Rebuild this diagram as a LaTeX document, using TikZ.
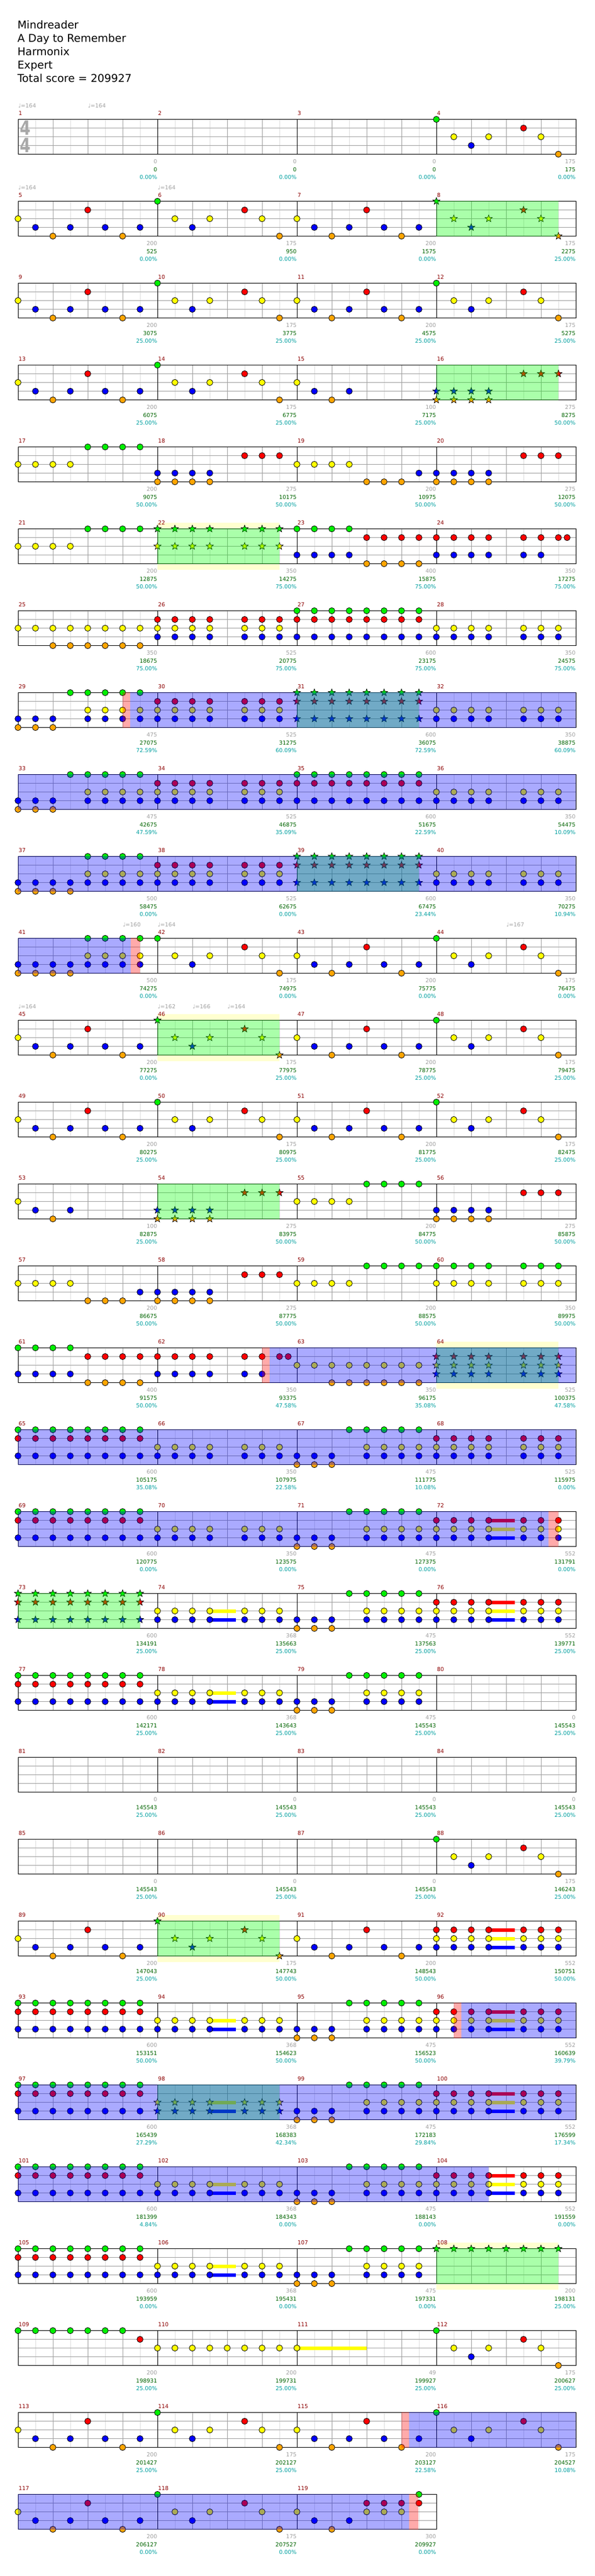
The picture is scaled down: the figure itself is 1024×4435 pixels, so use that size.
\documentclass[tikz,border=0pt]{standalone}
\usepackage{fontspec}
\setmainfont{DejaVu Sans}
\definecolor{cg}{RGB}{0,240,0}
\definecolor{cr}{RGB}{255,0,0}
\definecolor{cy}{RGB}{255,255,0}
\definecolor{cb}{RGB}{0,0,255}
\definecolor{co}{RGB}{255,165,0}
\definecolor{gridc}{RGB}{160,160,160}
\definecolor{lgrid}{RGB}{222,222,222}
\definecolor{mnumc}{RGB}{140,0,0}
\definecolor{scg}{RGB}{160,160,160}
\definecolor{scgr}{RGB}{0,100,0}
\definecolor{scc}{RGB}{0,160,160}
\definecolor{pyel}{RGB}{255,255,208}
\definecolor{ovg}{RGB}{0,255,0}
\definecolor{ovb}{RGB}{0,0,255}
\definecolor{ovr}{RGB}{255,0,0}
\definecolor{tsg}{RGB}{168,168,168}
\def\lyg{0}\def\lyr{15}\def\lyy{30}\def\lyb{45}\def\lyo{60}
\newcommand\rowtop[1]{\pgfmathsetmacro\rT{205.5+141*(#1-1)}}
\newcommand\ntn[3]{\rowtop{#1}\foreach \cc in {#2}{\edef\yy{\csname ly\cc\endcsname}\foreach \ii in {#3}{\filldraw[notec=\cc] ({31+30*(\ii)},{\rT+\yy}) circle[radius=5.3];}}}
\newcommand\stn[3]{\rowtop{#1}\foreach \cc in {#2}{\edef\yy{\csname ly\cc\endcsname}\foreach \ii in {#3}{\filldraw[notec=\cc,line width=0.7pt] ({31+30*(\ii)},{\rT+\yy}) +(-90:6.4) -- +(-54:2.7) -- +(-18:6.4) -- +(18:2.7) -- +(54:6.4) -- +(90:2.7) -- +(126:6.4) -- +(162:2.7) -- +(198:6.4) -- +(234:2.7) -- cycle;}}}
\newcommand\sus[4]{\rowtop{#1}\foreach \cc in {#2}{\edef\yy{\csname ly\cc\endcsname}\fill[c\cc] ({31+30*(#3)},{\rT+\yy-3}) rectangle ({31+30*(#4)},{\rT+\yy+3});}}
\newcommand\ovl[4]{\rowtop{#1}\fill[#2,fill opacity=0.333] ({31+30*(#3)},{\rT-0.5}) rectangle ({31+30*(#4)},{\rT+60.5});}
\newcommand\pyl[3]{\rowtop{#1}\fill[pyel] ({31+30*(#2)},{\rT-10.5}) rectangle ({31+30*(#3)},{\rT});\fill[pyel] ({31+30*(#2)},{\rT+60}) rectangle ({31+30*(#3)},{\rT+70.5});}
\newcommand\stf[2]{\rowtop{#1}\pgfmathsetmacro\rW{240*#2}\pgfmathtruncatemacro\nh{8*#2-1}\pgfmathtruncatemacro\nbt{4*#2-1}\pgfmathtruncatemacro\nms{#2-1}%
\foreach \j in {1,3,...,\nh}{\draw[lgrid] ({31+30*\j},\rT) -- ({31+30*\j},{\rT+60});}%
\foreach \yv in {15,30,45}{\draw[gridc] (31,{\rT+\yv}) -- ({31+\rW},{\rT+\yv});}%
\foreach \j in {1,...,\nbt}{\draw[gridc] ({31+60*\j},\rT) -- ({31+60*\j},{\rT+60});}%
\foreach \j in {1,...,\nms}{\draw[black] ({31+240*\j},\rT) -- ({31+240*\j},{\rT+60});}%
\draw[black] (31,\rT) rectangle ({31+\rW},{\rT+60});}
\newcommand\pA[2]{\ntn{#1}{y}{#2}\ntn{#1}{b}{#2+1,#2+3,#2+5,#2+7}\ntn{#1}{o}{#2+2,#2+6}\ntn{#1}{r}{#2+4}}
\newcommand\pB[3]{#3{#1}{g}{#2}#3{#1}{y}{#2+1,#2+3,#2+6}#3{#1}{b}{#2+2}#3{#1}{r}{#2+5}#3{#1}{o}{#2+7}}
\newcommand\pC[2]{\ntn{#1}{b,o}{#2,#2+1,#2+2}\ntn{#1}{g}{#2+3}\ntn{#1}{g,y,b}{#2+4,#2+5,#2+6,#2+7}}
\newcommand\msr[4]{\pgfmathtruncatemacro\mrow{div(#1-1,4)+1}\pgfmathtruncatemacro\mpos{mod(#1-1,4)}\rowtop{\mrow}\pgfmathsetmacro\xs{31+240*\mpos}%
\node[mn] (mn#1) at ({\xs+0.5},{\rT-7.4}) {#1};%
\node[sa] (sa#1) at ({\xs+240},{\rT+76.3}) {#2};%
\node[sb] (sb#1) at ({\xs+240},{\rT+89.6}) {#3};%
\node[sc] (sc#1) at ({\xs+240},{\rT+102.6}) {#4\%};}
\newcommand\tmpo[3]{\rowtop{#1}\node[tmp] (tp-#1-#2) at (#2,{\rT-20.4}) {♩=#3};}
\begin{document}
\begin{tikzpicture}[x=1pt,y=-1pt,line width=1pt,
 txt/.style={inner sep=0pt,font=\fontsize{9.5}{11}\selectfont},
 mn/.style={txt,text=mnumc,anchor=base west},
 sa/.style={txt,text=scg,anchor=base east},
 sb/.style={txt,text=scgr,anchor=base east},
 sc/.style={txt,text=scc,anchor=base east},
 tmp/.style={txt,text=scg,anchor=base west},
 ttl/.style={inner sep=0pt,anchor=base west,font=\fontsize{18.5}{23}\selectfont},
 notec/.style={fill=c#1,draw=black,line width=0.8pt}]
\useasboundingbox (0,0) rectangle (1024,4435);
\fill[white] (0,0) rectangle (1024,4435);
\node[ttl] (t1) at (29.5,49.3) {Mindreader};
\node[ttl] (t2) at (29.5,72.3) {A Day to Remember};
\node[ttl] (t3) at (29.5,95.3) {Harmonix};
\node[ttl] (t4) at (29.5,118.3) {Expert};
\node[ttl] (t5) at (29.5,141.3) {Total score = 209927};
% row 1
\stf{1}{4}
\node[inner sep=0pt,text=tsg,font=\fontsize{34}{34}\selectfont\bfseries] (ts1) at (44.2,220.3) {\scalebox{0.78}[1]{4}};
\node[inner sep=0pt,text=tsg,font=\fontsize{34}{34}\selectfont\bfseries] (ts2) at (44.2,250.5) {\scalebox{0.78}[1]{4}};
\pB{1}{24}{\ntn}
\tmpo{1}{31}{164}\tmpo{1}{151}{164}
% row 2
\stf{2}{4}
\pA{2}{0}\pB{2}{8}{\ntn}\pA{2}{16}\pB{2}{24}{\stn}
\ovl{2}{ovg}{24}{31}
\tmpo{2}{31}{164}\tmpo{2}{271}{164}
% row 3
\stf{3}{4}
\pA{3}{0}\pB{3}{8}{\ntn}\pA{3}{16}\pB{3}{24}{\ntn}
% row 4
\stf{4}{4}
\pA{4}{0}\pB{4}{8}{\ntn}\ntn{4}{y}{16}\ntn{4}{b}{17,19}\ntn{4}{o}{18}
\stn{4}{b,o}{24,25,26,27}\stn{4}{r}{29,30,31}
\ovl{4}{ovg}{24}{31}
% row 5
\stf{5}{4}
\ntn{5}{y}{0,1,2,3}\ntn{5}{g}{4,5,6,7}\ntn{5}{b,o}{8,9,10,11}\ntn{5}{r}{13,14,15}
\ntn{5}{y}{16,17,18,19}\ntn{5}{o}{20,21,22}\ntn{5}{b}{23}\ntn{5}{b,o}{24,25,26,27}\ntn{5}{r}{29,30,31}
% row 6
\pyl{6}{8}{15}
\stf{6}{4}
\ntn{6}{y}{0,1,2,3}\ntn{6}{g}{4,5,6,7}\stn{6}{g,y}{8,9,10,11,13,14,15}
\ntn{6}{g,b}{16,17,18,19}\ntn{6}{r,o}{20,21,22,23}\ntn{6}{r,b}{24,25,26,27,29,30}\ntn{6}{r}{31,31.5}
\ovl{6}{ovg}{8}{15}
% row 7
\stf{7}{4}
\ntn{7}{y}{0,1,2,3,4,5,6,7}\ntn{7}{o}{2,3,4,5,6,7}\ntn{7}{r,y,b}{8,9,10,11,13,14,15}
\ntn{7}{g,r,b}{16,17,18,19,20,21,22,23}\ntn{7}{y,b}{24,25,26,27,29,30,31}
% row 8
\stf{8}{4}
\ntn{8}{b,o}{0,1,2}\ntn{8}{g}{3,4,5,6,7}\ntn{8}{y,b}{4,5,6,7}\ntn{8}{r,y,b}{8,9,10,11,13,14,15}
\stn{8}{g,r,b}{16,17,18,19,20,21,22,23}\ntn{8}{y,b}{24,25,26,27,29,30,31}
\ovl{8}{ovg}{16}{23}\ovl{8}{ovr}{6}{6.43}\ovl{8}{ovb}{6.43}{32}
% row 9
\stf{9}{4}
\ntn{9}{b,o}{0,1,2}\ntn{9}{g}{3,4,5,6,7}\ntn{9}{y,b}{4,5,6,7}\ntn{9}{r,y,b}{8,9,10,11,13,14,15}
\ntn{9}{g,r,b}{16,17,18,19,20,21,22,23}\ntn{9}{y,b}{24,25,26,27,29,30,31}
\ovl{9}{ovb}{0}{32}
% row 10
\stf{10}{4}
\ntn{10}{b,o}{0,1,2,3}\ntn{10}{g,y,b}{4,5,6,7}\ntn{10}{r,y,b}{8,9,10,11,13,14,15}
\stn{10}{g,r,b}{16,17,18,19,20,21,22,23}\ntn{10}{y,b}{24,25,26,27,29,30,31}
\ovl{10}{ovg}{16}{23}\ovl{10}{ovb}{0}{32}
% row 11
\stf{11}{4}
\ntn{11}{b,o}{0,1,2,3}\ntn{11}{g,y,b}{4,5,6,7}\pB{11}{8}{\ntn}\pA{11}{16}\pB{11}{24}{\ntn}
\ovl{11}{ovb}{0}{6.48}\ovl{11}{ovr}{6.48}{7}
\tmpo{11}{211}{160}\tmpo{11}{271}{164}\tmpo{11}{871}{167}
% row 12
\pyl{12}{8}{15}
\stf{12}{4}
\pA{12}{0}\pB{12}{8}{\stn}\pA{12}{16}\pB{12}{24}{\ntn}
\ovl{12}{ovg}{8}{15}
\tmpo{12}{31}{164}\tmpo{12}{271}{162}\tmpo{12}{331}{166}\tmpo{12}{391}{164}
% row 13
\stf{13}{4}
\pA{13}{0}\pB{13}{8}{\ntn}\pA{13}{16}\pB{13}{24}{\ntn}
% row 14
\stf{14}{4}
\ntn{14}{y}{0}\ntn{14}{b}{1,3}\ntn{14}{o}{2}\stn{14}{b,o}{8,9,10,11}\stn{14}{r}{13,14,15}
\ntn{14}{y}{16,17,18,19}\ntn{14}{g}{20,21,22,23}\ntn{14}{b,o}{24,25,26,27}\ntn{14}{r}{29,30,31}
\ovl{14}{ovg}{8}{15}
% row 15
\stf{15}{4}
\ntn{15}{y}{0,1,2,3}\ntn{15}{o}{4,5,6}\ntn{15}{b}{7}\ntn{15}{b,o}{8,9,10,11}\ntn{15}{r}{13,14,15}
\ntn{15}{y}{16,17,18,19}\ntn{15}{g}{20,21,22,23}\ntn{15}{g,y}{24,25,26,27,29,30,31}
% row 16
\pyl{16}{24}{31}
\stf{16}{4}
\ntn{16}{g,b}{0,1,2,3}\ntn{16}{r,o}{4,5,6,7}\ntn{16}{r,b}{8,9,10,11,13,14}\ntn{16}{r}{15,15.5}
\ntn{16}{y}{16,17,18,19,20,21,22,23}\ntn{16}{o}{18,19,20,21,22,23}\stn{16}{r,y,b}{24,25,26,27,29,30,31}
\ovl{16}{ovg}{24}{31}\ovl{16}{ovr}{14}{14.43}\ovl{16}{ovb}{14.43}{32}
% row 17
\stf{17}{4}
\ntn{17}{g,r,b}{0,1,2,3,4,5,6,7}\ntn{17}{y,b}{8,9,10,11,13,14,15}\pC{17}{16}\ntn{17}{r,y,b}{24,25,26,27,29,30,31}
\ovl{17}{ovb}{0}{32}
% row 18
\stf{18}{4}
\ntn{18}{g,r,b}{0,1,2,3,4,5,6,7}\ntn{18}{y,b}{8,9,10,11,13,14,15}\pC{18}{16}
\sus{18}{r,y,b}{27}{28.5}\ntn{18}{r,y,b}{24,25,26,27,29,30,31}
\ovl{18}{ovb}{0}{30.43}\ovl{18}{ovr}{30.43}{31}
% row 19
\stf{19}{4}
\stn{19}{g,r,b}{0,1,2,3,4,5,6,7}\sus{19}{y,b}{11}{12.5}\ntn{19}{y,b}{8,9,10,11,13,14,15}\pC{19}{16}
\sus{19}{r,y,b}{27}{28.5}\ntn{19}{r,y,b}{24,25,26,27,29,30,31}
\ovl{19}{ovg}{0}{7}
% row 20
\stf{20}{4}
\ntn{20}{g,r,b}{0,1,2,3,4,5,6,7}\sus{20}{y,b}{11}{12.5}\ntn{20}{y,b}{8,9,10,11,13,14,15}\pC{20}{16}
% row 21
\stf{21}{4}
% row 22
\stf{22}{4}
\pB{22}{24}{\ntn}
% row 23
\pyl{23}{8}{15}
\stf{23}{4}
\pA{23}{0}\pB{23}{8}{\stn}\pA{23}{16}\sus{23}{r,y,b}{27}{28.5}\ntn{23}{r,y,b}{24,25,26,27,29,30,31}
\ovl{23}{ovg}{8}{15}
% row 24
\stf{24}{4}
\ntn{24}{g,r,b}{0,1,2,3,4,5,6,7}\sus{24}{y,b}{11}{12.5}\ntn{24}{y,b}{8,9,10,11,13,14,15}\pC{24}{16}
\sus{24}{r,y,b}{27}{28.5}\ntn{24}{r,y,b}{24,25,26,27,29,30,31}
\ovl{24}{ovr}{25}{25.43}\ovl{24}{ovb}{25.43}{32}
% row 25
\stf{25}{4}
\ntn{25}{g,r,b}{0,1,2,3,4,5,6,7}\sus{25}{y,b}{11}{12.5}\stn{25}{y,b}{8,9,10,11,13,14,15}\pC{25}{16}
\sus{25}{r,y,b}{27}{28.5}\ntn{25}{r,y,b}{24,25,26,27,29,30,31}
\ovl{25}{ovg}{8}{15}\ovl{25}{ovb}{0}{32}
% row 26
\stf{26}{4}
\ntn{26}{g,r,b}{0,1,2,3,4,5,6,7}\sus{26}{y,b}{11}{12.5}\ntn{26}{y,b}{8,9,10,11,13,14,15}\pC{26}{16}
\sus{26}{r,y,b}{27}{28.5}\ntn{26}{r,y,b}{24,25,26,27,29,30,31}
\ovl{26}{ovb}{0}{27}
% row 27
\pyl{27}{24}{31}
\stf{27}{4}
\ntn{27}{g,r,b}{0,1,2,3,4,5,6,7}\sus{27}{y,b}{11}{12.5}\ntn{27}{y,b}{8,9,10,11,13,14,15}\pC{27}{16}
\stn{27}{g}{24,25,26,27,28,29,30,31}
\ovl{27}{ovg}{24}{31}
% row 28
\stf{28}{4}
\ntn{28}{g}{0,1,2,3,4,5,6}\ntn{28}{r}{7}\ntn{28}{y}{8,9,10,11,12,13,14,15}\sus{28}{y}{16}{20}\ntn{28}{y}{16}\pB{28}{24}{\ntn}
% row 29
\stf{29}{4}
\pA{29}{0}\pB{29}{8}{\ntn}\pA{29}{16}\pB{29}{24}{\ntn}
\ovl{29}{ovr}{22}{22.43}\ovl{29}{ovb}{22.43}{32}
% row 30
\stf{30}{3}
\pA{30}{0}\pB{30}{8}{\ntn}\ntn{30}{y}{16}\ntn{30}{b}{17,19}\ntn{30}{o}{18}\ntn{30}{r,y}{20,21,22}\ntn{30}{g,r}{23}
\ovl{30}{ovb}{0}{22.43}\ovl{30}{ovr}{22.43}{22.95}
% measure texts
\msr{1}{0}{0}{0.00}\msr{2}{0}{0}{0.00}\msr{3}{0}{0}{0.00}\msr{4}{175}{175}{0.00}
\msr{5}{200}{525}{0.00}\msr{6}{175}{950}{0.00}\msr{7}{200}{1575}{0.00}\msr{8}{175}{2275}{25.00}
\msr{9}{200}{3075}{25.00}\msr{10}{175}{3775}{25.00}\msr{11}{200}{4575}{25.00}\msr{12}{175}{5275}{25.00}
\msr{13}{200}{6075}{25.00}\msr{14}{175}{6775}{25.00}\msr{15}{100}{7175}{25.00}\msr{16}{275}{8275}{50.00}
\msr{17}{200}{9075}{50.00}\msr{18}{275}{10175}{50.00}\msr{19}{200}{10975}{50.00}\msr{20}{275}{12075}{50.00}
\msr{21}{200}{12875}{50.00}\msr{22}{350}{14275}{75.00}\msr{23}{400}{15875}{75.00}\msr{24}{350}{17275}{75.00}
\msr{25}{350}{18675}{75.00}\msr{26}{525}{20775}{75.00}\msr{27}{600}{23175}{75.00}\msr{28}{350}{24575}{75.00}
\msr{29}{475}{27075}{72.59}\msr{30}{525}{31275}{60.09}\msr{31}{600}{36075}{72.59}\msr{32}{350}{38875}{60.09}
\msr{33}{475}{42675}{47.59}\msr{34}{525}{46875}{35.09}\msr{35}{600}{51675}{22.59}\msr{36}{350}{54475}{10.09}
\msr{37}{500}{58475}{0.00}\msr{38}{525}{62675}{0.00}\msr{39}{600}{67475}{23.44}\msr{40}{350}{70275}{10.94}
\msr{41}{500}{74275}{0.00}\msr{42}{175}{74975}{0.00}\msr{43}{200}{75775}{0.00}\msr{44}{175}{76475}{0.00}
\msr{45}{200}{77275}{0.00}\msr{46}{175}{77975}{25.00}\msr{47}{200}{78775}{25.00}\msr{48}{175}{79475}{25.00}
\msr{49}{200}{80275}{25.00}\msr{50}{175}{80975}{25.00}\msr{51}{200}{81775}{25.00}\msr{52}{175}{82475}{25.00}
\msr{53}{100}{82875}{25.00}\msr{54}{275}{83975}{50.00}\msr{55}{200}{84775}{50.00}\msr{56}{275}{85875}{50.00}
\msr{57}{200}{86675}{50.00}\msr{58}{275}{87775}{50.00}\msr{59}{200}{88575}{50.00}\msr{60}{350}{89975}{50.00}
\msr{61}{400}{91575}{50.00}\msr{62}{350}{93375}{47.58}\msr{63}{350}{96175}{35.08}\msr{64}{525}{100375}{47.58}
\msr{65}{600}{105175}{35.08}\msr{66}{350}{107975}{22.58}\msr{67}{475}{111775}{10.08}\msr{68}{525}{115975}{0.00}
\msr{69}{600}{120775}{0.00}\msr{70}{350}{123575}{0.00}\msr{71}{475}{127375}{0.00}\msr{72}{552}{131791}{0.00}
\msr{73}{600}{134191}{25.00}\msr{74}{368}{135663}{25.00}\msr{75}{475}{137563}{25.00}\msr{76}{552}{139771}{25.00}
\msr{77}{600}{142171}{25.00}\msr{78}{368}{143643}{25.00}\msr{79}{475}{145543}{25.00}\msr{80}{0}{145543}{25.00}
\msr{81}{0}{145543}{25.00}\msr{82}{0}{145543}{25.00}\msr{83}{0}{145543}{25.00}\msr{84}{0}{145543}{25.00}
\msr{85}{0}{145543}{25.00}\msr{86}{0}{145543}{25.00}\msr{87}{0}{145543}{25.00}\msr{88}{175}{146243}{25.00}
\msr{89}{200}{147043}{25.00}\msr{90}{175}{147743}{50.00}\msr{91}{200}{148543}{50.00}\msr{92}{552}{150751}{50.00}
\msr{93}{600}{153151}{50.00}\msr{94}{368}{154623}{50.00}\msr{95}{475}{156523}{50.00}\msr{96}{552}{160639}{39.79}
\msr{97}{600}{165439}{27.29}\msr{98}{368}{168383}{42.34}\msr{99}{475}{172183}{29.84}\msr{100}{552}{176599}{17.34}
\msr{101}{600}{181399}{4.84}\msr{102}{368}{184343}{0.00}\msr{103}{475}{188143}{0.00}\msr{104}{552}{191559}{0.00}
\msr{105}{600}{193959}{0.00}\msr{106}{368}{195431}{0.00}\msr{107}{475}{197331}{0.00}\msr{108}{200}{198131}{25.00}
\msr{109}{200}{198931}{25.00}\msr{110}{200}{199731}{25.00}\msr{111}{49}{199927}{25.00}\msr{112}{175}{200627}{25.00}
\msr{113}{200}{201427}{25.00}\msr{114}{175}{202127}{25.00}\msr{115}{200}{203127}{22.58}\msr{116}{175}{204527}{10.08}
\msr{117}{200}{206127}{0.00}\msr{118}{175}{207527}{0.00}\msr{119}{300}{209927}{0.00}
\end{tikzpicture}
\end{document}
